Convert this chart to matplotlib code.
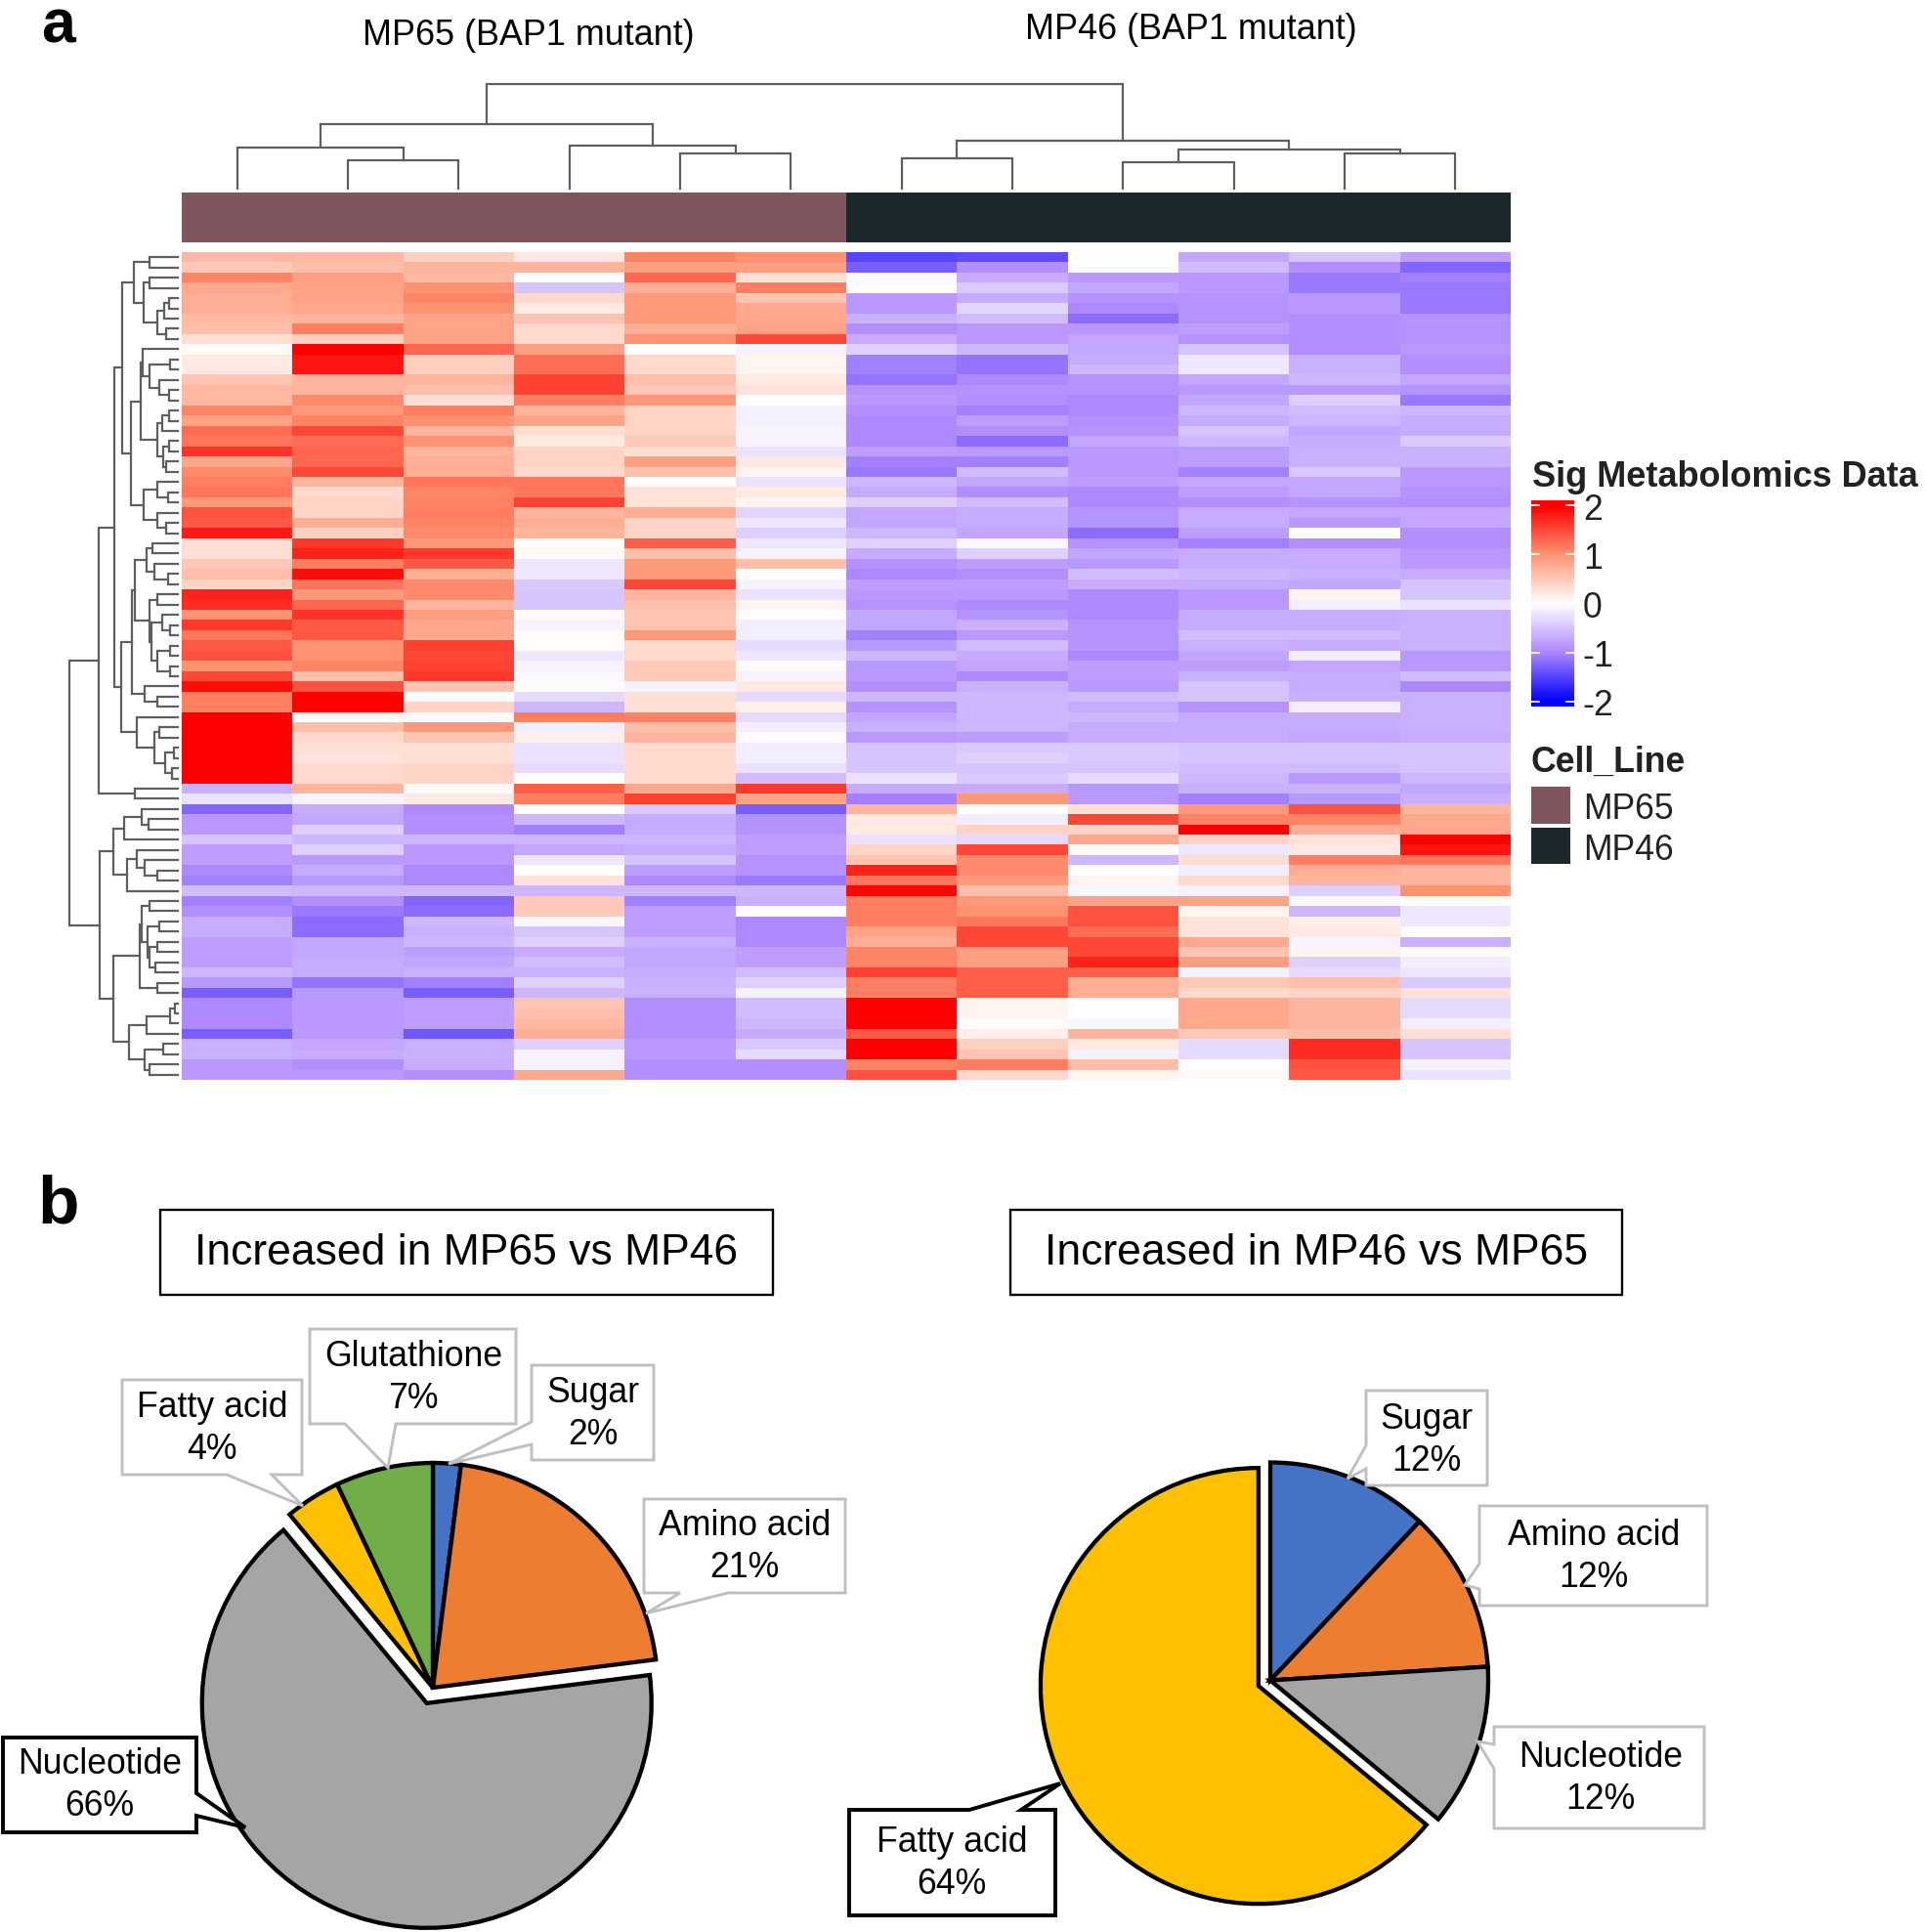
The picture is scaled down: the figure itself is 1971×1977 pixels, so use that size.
import matplotlib
matplotlib.use("Agg")
import matplotlib.pyplot as plt
import numpy as np
from matplotlib.colors import LinearSegmentedColormap, ListedColormap
from matplotlib.patches import Polygon, Rectangle

plt.rcParams['font.family'] = ['Liberation Sans', 'DejaVu Sans']

W, H = 1971, 1977

# ---------- heatmap values, one list per sample (81 metabolites) ----------
c1 = [.65,.5,1.1,.8,.75,.75,.65,.6,.3,.05,.2,.2,.55,.65,.65,1.1,.85,1.25,1.2,1.65,.8,1.05,1.15,1.2,.95,1.45,1.4,1.8,
      .3,.3,.5,.6,.4,1.75,1.7,1.0,1.6,1.2,1.4,1.45,1.0,1.5,1.9,1.15,1.15,2,2,2,2,2,2,2,-.65,-.25,
      -1.25,-.85,-.85,-.5,-.8,-.8,-1.0,-1.05,-.55,-1.05,-.95,-.7,-.7,-.8,-.8,-.8,-.6,-.85,-1.3,-1.0,-1.0,-1.0,-1.3,-.65,-.65,-.85,-.85]
c2 = [.65,.6,.9,.85,.85,.8,.7,1.15,.45,2,1.85,1.85,.7,.7,1.05,.95,1.1,1.5,1.25,1.3,1.3,1.5,.7,.35,.4,.4,.75,.45,
      1.6,1.75,1.15,1.9,1.2,.95,1.3,1.65,1.4,1.4,1.0,1.0,1.1,.6,1.45,2,2,.03,.6,.35,.3,.25,.35,.35,.7,-.08,
      -.7,-.75,-.4,-.6,-.4,-.85,-.7,-.85,-.6,-.95,-1.1,-1.2,-1.2,-.75,-.75,-.7,-.7,-1.15,-.85,-.85,-.85,-.85,-.85,-.75,-.7,-.95,-.85]
c3 = [.45,.7,.65,1.0,1.1,1.0,.85,.85,.85,1.3,.45,.45,.7,.6,.3,1.15,1.0,.7,1.0,.7,.75,.75,1.2,1.1,1.1,1.15,1.1,1.05,
      .95,1.6,1.4,.75,1.05,1.05,.7,.9,.8,.8,1.55,1.5,1.55,1.6,.55,.02,.4,.02,.95,.55,.3,.3,.4,.4,.05,.2,
      -1.0,-.95,-.95,-.6,-.85,-.85,-1.0,-1.0,-.6,-1.25,-1.2,-.6,-.65,-.6,-.8,-.75,-.65,-1.05,-1.3,-.8,-.8,-.8,-1.35,-.65,-.65,-.7,-.95]
c4 = [.2,.7,-.02,-.5,.35,.2,.55,.35,.35,.9,1.25,1.25,1.55,1.55,1.15,.7,.85,.3,.2,.4,.4,.35,1.2,1.2,1.55,.7,.75,.7,
      0,.05,-.2,-.2,-.45,-.5,-.5,.05,-.1,.03,.03,-.2,-.1,-.05,.03,-.3,-.6,1.15,-.15,.15,-.25,-.25,-.3,-.02,1.35,1.15,
      0,-.6,-1.05,-.6,-.75,-.2,0,.25,-.6,.5,.5,-.05,-.5,-.4,-.7,-.55,-.65,-.4,-.6,.55,.6,.65,.75,-.4,-.1,-.1,.8]
c5 = [1.1,.9,1.3,.75,.95,.95,.95,.75,1.0,0,.35,.35,.6,.5,.95,.4,.4,.4,.5,.3,.9,.6,.02,.25,.25,.75,.4,.4,
      1.35,.6,.95,.95,1.5,.7,.6,.55,.55,.95,.35,.35,.5,.5,-.1,.3,.3,1.1,.6,.7,.35,.35,.35,.35,.8,1.55,
      -.45,-.7,-.7,-.6,-.7,-.5,-.8,-1.0,-.6,-1.05,-.8,-.8,-.8,-.65,-.75,-.75,-.7,-.65,-.65,-.95,-.95,-.95,-.95,-.85,-.85,-.95,-.95]
c6 = [1.0,.9,.3,1.15,.55,.8,.8,.85,1.5,-.12,.1,.1,.2,.25,-.01,-.12,-.12,-.08,-.08,-.25,.2,.1,-.25,.2,.1,-.35,-.2,-.4,
      -.2,-.1,.6,.02,-.1,-.25,.1,.02,-.15,-.15,-.3,-.2,.05,-.1,.2,-.3,.15,-.3,-.15,.03,-.15,-.15,-.25,-.55,1.6,.85,
      -1.3,-.9,-.9,-.8,-.8,-.9,-.9,-1.1,-.6,-.65,0,-1.0,-1.0,-1.0,-.8,-.8,-.55,-.4,-.1,-.55,-.55,-.6,-.7,-.45,-.3,-.95,-.95]
c7 = [-1.5,-1.3,-.05,0,-.85,-.85,-.65,-.95,-.7,-.4,-1.05,-1.05,-1.15,-.9,-.85,-.95,-1.0,-1.0,-1.0,-.8,-1.05,-1.1,-.6,-.7,-.4,-.75,-.75,-.6,
      -.4,-.7,-.9,-1.0,-.8,-.85,-.9,-.75,-.75,-1.05,-.85,-.6,-.85,-.85,-.95,-.6,-.9,-.75,-.65,-.85,-.5,-.5,-.5,-.25,-.7,-1.05,
      .7,.2,.2,-.25,.4,.55,1.75,1.2,1.95,1.15,1.15,1.15,.85,.75,1.1,1.1,1.55,1.15,1.15,2,2,2,1.4,2,2,1.1,1.45]
c8 = [-1.45,-.95,-.7,-.45,-.7,-.35,-.55,-.85,-.85,-.6,-1.15,-1.15,-1.0,-.9,-.95,-1.05,-.8,-.95,-1.2,-.85,-1.05,-.55,-.75,-.95,-.55,-.7,-.7,-.75,
      -.05,-.4,-.8,-.95,-.8,-.85,-1.0,-.9,-.65,-.85,-.55,-.7,-.75,-1.0,-.65,-.6,-.6,-.6,-.6,-.8,-.45,-.4,-.5,-.45,-.7,.95,
      0,-.15,.4,-.3,1.5,1.05,1.05,.95,.6,.95,1.0,1.2,1.5,1.5,.9,.9,1.35,1.35,1.35,.1,.1,.03,.15,.45,.55,1.15,.35]
c9 = [0,-.02,-.85,-.75,-.9,-1.0,-1.2,-.85,-.75,-.75,-.7,-.6,-.9,-.9,-1.0,-1.0,-.95,-.9,-.75,-.85,-.85,-.85,-.8,-1.0,-1.0,-.9,-.9,-1.2,
      -.9,-.75,-.85,-.55,-.7,-1.0,-1.0,-1.0,-.9,-.9,-.9,-1.0,-.8,-.8,-.85,-.55,-.7,-.6,-.7,-.7,-.45,-.45,-.5,-.3,-.85,-.85,
      .3,1.5,.4,.8,.05,-.6,0,.1,-.05,.85,1.45,1.45,1.25,1.5,1.5,1.75,1.35,.75,.75,-.02,-.02,-.05,.7,.2,-.12,.6,.1]
c10 = [-.75,-.55,-.85,-.85,-.9,-.9,-.9,-.8,-.9,-.5,-.2,-.2,-.75,-.85,-.75,-.6,-.7,-.5,-.6,-.8,-.8,-1.05,-.75,-.8,-.95,-.7,-.7,-.8,
       -1.05,-.7,-.7,-.6,-.7,-.85,-.85,-.7,-.7,-.55,-.65,-.75,-.8,-.65,-.5,-.5,-.9,-.7,-.7,-.7,-.5,-.5,-.55,-.6,-.65,-1.05,
       .95,1.1,2,.4,-.2,.3,-.15,.35,-.1,.85,.1,.25,.25,.8,.55,.9,-.12,.5,.35,.8,.8,.8,.5,-.3,-.3,-.03,.05]
c11 = [-.5,-.95,-1.1,-1.1,-.85,-.85,-.95,-.95,-.95,-.95,-.65,-.65,-.6,-.85,-.4,-.55,-.6,-.75,-.7,-.65,-.65,-.45,-.75,-.75,-.9,-.75,-.85,0,
       -.95,-.7,-.7,-.65,-.75,.1,-.15,-.7,-.7,-.55,-.7,-.15,-.75,-.7,-.7,-.65,-.15,-.7,-.7,-.75,-.5,-.5,-.55,-.85,-.65,-.85,
       1.45,1.1,.75,.25,.2,1.15,.75,.7,-.4,-.05,-.6,.15,.2,-.1,.1,-.4,-.3,.6,.4,.7,.7,.7,.6,1.7,1.7,1.45,1.4]
c12 = [-.8,-1.25,-1.05,-1.1,-1.1,-1.1,-.9,-.9,-.9,-.85,-.95,-.95,-.75,-.9,-1.1,-.6,-.7,-.7,-.45,-.65,-.65,-.85,-.85,-.9,-.95,-.75,-.75,-.95,
       -.95,-.85,-.85,-.7,-.5,-.5,-.25,-.65,-.65,-.65,-.65,-.85,-.85,-.55,-1.0,-.65,-.65,-.65,-.65,-.7,-.5,-.5,-.5,-.6,-.75,-.65,
       .7,.8,.8,2,1.85,1.2,.7,.7,1.0,0,-.2,-.2,.03,-.65,.06,-.15,-.2,-.45,.25,-.3,-.3,-.15,.3,-.5,-.5,-.12,-.25]
samples = [c1, c2, c3, c4, c5, c6, c7, c8, c9, c10, c11, c12]

cell_lines = ["MP65", "MP46"]
cell_line_of_sample = [0] * 6 + [1] * 6
cell_line_colors = ["#80565E", "#1A282B"]

# column tree: (merge height, left, right); leaves are None
col_tree = (107,
            (66, (42, None, (29, None, None)), (44, None, (36, None, None))),
            (49, (31, None, None), (40, (27, None, None), (36, None, None))))

L = None  # one row
# row tree: (merge height, upper, lower); a leaf is one metabolite
row_A = (45, (29, L, L), (35, (29, L, L), (21, (14, (9, L, L), L), (12, L, L))))
row_B = (48,
         (38, (36, L, (29, (8, L, L), (19, L, (9, L, L)))),
              (21, (16, (9, L, L), L), (15, (9, L, L), (12, L, L)))),
         (35, (21, L, (10, L, L)), (21, L, (12, L, L))))
row_T1a = (57, row_A, row_B)
row_T1b = (58,
           (47, (44, (32, (26, L, L), (24, L, (10, L, L))),
                 (29, (21, L, L), (27, (16, L, (8, L, L)), (21, (8, L, L), (8, L, L))))),
            (34, L, (21, L, L))),
           (42, L, (24, (19, L, L), (13, (4, L, L), (6, L, L)))))
row_T = (81, (65, row_T1a, row_T1b), (44, L, L))
row_Ba = (66,
          (55, (37, L, (30, L, L)), L),
          (52, (42, L, (34, L, (21, L, L))), L))
row_Bb = (66,
          (39, (37, (29, L, L),
                (31, (19, L, L), (29, (21, L, L), (23, L, L)))),
           (21, L, L)),
          (50, (32, (8, (3, L, L), L), L), (34, (15, L, L), (29, L, L))))
row_tree = (111, row_T, (80, row_Ba, row_Bb))

# colour scale
scale_ticks = [2, 1, 0, -1, -2]
scale_colors = ["#0000FF", "#AE88FF", "#FFFFFF", "#FF9473", "#FF0000"]

# pies
left_names = ["Sugar", "Amino acid", "Nucleotide", "Fatty acid", "Glutathione"]
left_values = [2, 21, 66, 4, 7]
left_colors = ["#4472C4", "#ED7D31", "#A5A5A5", "#FFC000", "#70AD47"]
left_explode = [0, 0, .074, 0, 0]
right_names = ["Sugar", "Amino acid", "Nucleotide", "Fatty acid"]
right_values = [12, 12, 12, 64]
right_colors = ["#4472C4", "#ED7D31", "#A5A5A5", "#FFC000"]
right_explode = [0, 0, 0, .06]
titles = ["Increased in MP65 vs MP46", "Increased in MP46 vs MP65"]

fig = plt.figure(figsize=(W / 100, H / 100), dpi=100, facecolor="white")


def px_axes(x0, y0, x1, y1, **kw):
    return fig.add_axes([x0 / W, 1 - y1 / H, (x1 - x0) / W, (y1 - y0) / H], **kw)


# ---------- heatmap ----------
data = np.array(samples).T
cmap = LinearSegmentedColormap.from_list("sig", list(zip([0, .25, .5, .75, 1], scale_colors)))
HX0, HX1, HY0, HY1 = 186, 1546, 258, 1105
ax = px_axes(HX0, HY0, HX1, HY1)
ax.imshow(data, aspect="auto", cmap=cmap, vmin=-2, vmax=2, interpolation="nearest")
ax.axis("off")

# annotation bar
ax = px_axes(HX0, 197, HX1, 248)
ax.imshow(np.array([cell_line_of_sample]), aspect="auto", interpolation="nearest",
          cmap=ListedColormap(cell_line_colors))
ax.axis("off")

LINE = "#5F5F5F"
LW = 1.6

# column dendrogram
ax = px_axes(HX0, 70, HX1, 193)
ax.set_xlim(0, 12)
ax.set_ylim(0, 123)
ax.axis("off")
counter = [0]


def draw_col(n):
    if n is None:
        counter[0] += 1
        return counter[0] - .5, 0
    h, a, b = n
    xa, ha = draw_col(a)
    xb, hb = draw_col(b)
    ax.plot([xa, xa, xb, xb], [ha, h, h, hb], color=LINE, lw=LW, solid_joinstyle="miter", clip_on=False)
    return (xa + xb) / 2, h


draw_col(col_tree)

# row dendrogram
ax = px_axes(60, HY0, 182, HY1)
ax.set_xlim(122, 0)
ax.set_ylim(81, 0)
ax.axis("off")
counter = [0]


def draw_row(n):
    if n is None:
        counter[0] += 1
        return counter[0] - .5, 0
    h, a, b = n
    ya, ha = draw_row(a)
    yb, hb = draw_row(b)
    ax.plot([ha, h, h, hb], [ya, ya, yb, yb], color=LINE, lw=LW, solid_joinstyle="miter", clip_on=False)
    return (ya + yb) / 2, h


draw_row(row_tree)

# ---------- colour bar ----------
ax = px_axes(1567, 512, 1611, 723)
grad = np.linspace(2.1, -2.1, 256).reshape(-1, 1)
ax.imshow(grad, aspect="auto", cmap=cmap, vmin=-2, vmax=2, extent=[0, 1, -2.1, 2.1])
ax.set_xticks([])
ax.set_yticks([])
for s in ax.spines.values():
    s.set_visible(False)
for t in scale_ticks:
    ax.plot([0, .18], [t, t], color="white", lw=1.2)
    ax.plot([.82, 1], [t, t], color="white", lw=1.2)
    ax.text(1.2, t - .1, str(t), ha="left", va="center", fontsize=25.7, color="#222222", clip_on=False)
ax.set_xlim(0, 1)
ax.set_ylim(-2.1, 2.1)

# ---------- pies ----------
WEDGE = dict(edgecolor="black", linewidth=3.1, joinstyle="miter")


def pie(cx, cy, r, values, colors, explode):
    half = r * 1.2
    a = px_axes(cx - half, cy - half, cx + half, cy + half)
    a.pie(values, colors=colors, explode=explode, startangle=90, counterclock=False, radius=1,
          wedgeprops=WEDGE, normalize=True)
    a.set_xlim(-1.2, 1.2)
    a.set_ylim(-1.2, 1.2)
    a.set_aspect("equal")
    a.patch.set_alpha(0)
    for p in a.patches:
        p.set_clip_on(False)


pie(443, 1727, 230, left_values, left_colors, left_explode)
pie(1300, 1719.5, 223, right_values, right_colors, right_explode)

# ---------- overlay in page pixels ----------
ov = fig.add_axes([0, 0, 1, 1])
ov.set_xlim(0, W)
ov.set_ylim(H, 0)
ov.axis("off")
ov.patch.set_alpha(0)

FS = 25.7
ov.text(541, 37, "MP65 (BAP1 mutant)", ha="center", va="center", fontsize=25.8)
ov.text(1219, 31, "MP46 (BAP1 mutant)", ha="center", va="center", fontsize=25.8)
ov.text(59, 44, "a", ha="center", va="baseline", fontsize=45, fontweight="bold")
ov.text(60, 1233, "b", ha="center", va="center", fontsize=50, fontweight="bold")

ov.text(1568, 489, "Sig Metabolomics Data", ha="left", va="center", fontsize=26, fontweight="bold", color="#222222")
ov.text(1567, 780, "Cell_Line", ha="left", va="center", fontsize=25.7, fontweight="bold", color="#222222")
for name, col, y0, y1, ty in zip(cell_lines, cell_line_colors, [805, 847], [843, 884], [829, 870]):
    ov.add_patch(Rectangle((1567, y0), 40, y1 - y0, facecolor=col, edgecolor="none"))
    ov.text(1620, ty, name, ha="left", va="center", fontsize=25.7, color="#222222")

for title, x0, x1 in zip(titles, [164, 1034], [791, 1660]):
    ov.add_patch(Rectangle((x0, 1238), x1 - x0, 87, facecolor="white", edgecolor="black", lw=1.7))
    ov.text((x0 + x1) / 2, 1283, title, ha="center", va="center", fontsize=32)


def callout(verts, name, value, tx, ty, edge):
    lw = 2.1 if edge == "#BFBFBF" else 2.8
    ov.add_patch(Polygon(verts, closed=True, facecolor="white", edgecolor=edge, lw=lw, joinstyle="miter"))
    ov.text(tx, ty, f"{name}\n{value}%", ha="center", va="center", fontsize=FS, linespacing=1.3)


G = "#BFBFBF"
K = "black"
callout([(317, 1360), (528, 1360), (528, 1457), (405, 1457), (397, 1502), (353, 1457), (317, 1457)],
        left_names[4], left_values[4], 423, 1410, G)
callout([(544, 1397), (669, 1397), (669, 1494), (544, 1494), (544, 1478), (459, 1498), (544, 1455)],
        left_names[0], left_values[0], 607, 1447, G)
callout([(125, 1412), (309, 1412), (309, 1509), (278, 1509), (310, 1541), (232, 1509), (125, 1509)],
        left_names[3], left_values[3], 217, 1462, G)
callout([(659, 1534), (865, 1534), (865, 1630), (745, 1630), (661, 1651), (696, 1630), (659, 1630)],
        left_names[1], left_values[1], 762, 1583, G)
callout([(3, 1778), (201, 1778), (201, 1835), (251, 1870), (201, 1858), (201, 1875), (3, 1875)],
        left_names[2], left_values[2], 102, 1827, K)
callout([(1398, 1423), (1522, 1423), (1522, 1520), (1398, 1520), (1398, 1503), (1379, 1513), (1398, 1479)],
        right_names[0], right_values[0], 1460, 1474, G)
callout([(1514, 1541), (1747, 1541), (1747, 1643), (1514, 1643), (1514, 1626), (1499, 1622), (1514, 1600)],
        right_names[1], right_values[1], 1631, 1593, G)
callout([(1529, 1767), (1744, 1767), (1744, 1871), (1529, 1871), (1529, 1810), (1512, 1782), (1529, 1785)],
        right_names[2], right_values[2], 1638, 1820, G)
callout([(869, 1852), (992, 1852), (1085, 1825), (1045, 1852), (1080, 1852), (1080, 1960), (869, 1960)],
        right_names[3], right_values[3], 974, 1907, K)

fig.savefig("out.png", dpi=100, facecolor="white")
